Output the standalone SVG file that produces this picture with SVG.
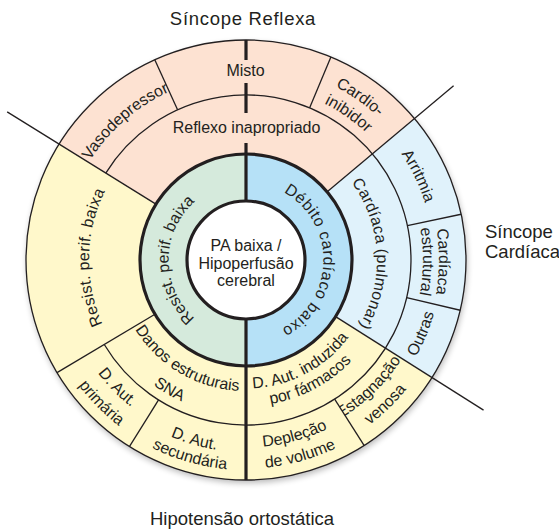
<svg xmlns="http://www.w3.org/2000/svg" xmlns:xlink="http://www.w3.org/1999/xlink" width="559" height="529" viewBox="0 0 559 529">
  <style>
    .pink { fill: #fde2d2; }
    .yellow { fill: #fff8cb; }
    .lblue { fill: #e0f2fb; }
    .green { fill: #d5eadc; }
    .blue { fill: #b6e1f7; }
    .lbl { font-family: "Liberation Sans", Arial, sans-serif; font-size: 16px; fill: #231f20; }
    .title { font-family: "Liberation Sans", Arial, sans-serif; font-size: 18.5px; fill: #231f20; }
    .thin { fill: none; stroke: #231f20; stroke-width: 1.3; }
    .thick { fill: none; stroke: #231f20; stroke-width: 3.2; }
  </style>
  <defs>
    <filter id="shadow" x="-10%" y="-10%" width="120%" height="125%">
      <feGaussianBlur stdDeviation="3"/>
    </filter>
    <!-- text baselines: clockwise arcs keep glyph tops outward, counter-clockwise arcs keep them inward -->
    <path id="p-green" d="M 239.25 337.20 A 77.5 77.5 0 0 1 239.25 182.80"/>
    <path id="p-blue" d="M 254.10 182.92 A 77.5 77.5 0 0 1 251.41 337.31"/>
    <path id="p-resist" d="M 216.04 414.12 A 157 157 0 0 1 221.44 104.93"/>
    <path id="p-pulm" d="M 261.96 129.98 A 131 131 0 0 1 275.47 387.64"/>
    <path id="p-vaso" d="M 87.42 355.28 A 185 185 0 0 1 362.42 116.23"/>
    <path id="p-cardio1" d="M 108.11 122.11 A 195 195 0 0 1 422.73 342.41"/>
    <path id="p-cardio2" d="M 122.26 136.26 A 175 175 0 0 1 404.60 333.96"/>
    <path id="p-arrit" d="M 194.18 79.28 A 188 188 0 0 1 356.50 412.10"/>
    <path id="p-estr1" d="M 281.17 70.23 A 193 193 0 0 1 277.85 450.35"/>
    <path id="p-estr2" d="M 278.26 85.96 A 177 177 0 0 1 275.21 434.57"/>
    <path id="p-outras" d="M 202.69 450.64 A 195.5 195.5 0 0 0 351.90 95.67"/>
    <path id="p-farm1" d="M 144.74 339.11 A 128.5 128.5 0 0 0 368.21 220.29"/>
    <path id="p-farm2" d="M 130.95 349.89 A 146 146 0 0 0 384.85 214.88"/>
    <path id="p-estag1" d="M 137.55 409.26 A 184.5 184.5 0 0 0 398.96 156.83"/>
    <path id="p-estag2" d="M 124.92 426.66 A 206 206 0 0 0 416.78 144.81"/>
    <path id="p-depl1" d="M 76.76 340.72 A 187.5 187.5 0 0 0 432.64 242.03"/>
    <path id="p-depl2" d="M 57.81 349.76 A 208.5 208.5 0 0 0 453.54 240.02"/>
    <path id="p-danos1" d="M 123.30 214.12 A 131 131 0 0 0 345.61 345.08"/>
    <path id="p-danos2" d="M 100.35 205.54 A 155.5 155.5 0 0 0 364.24 360.99"/>
    <path id="p-prim1" d="M 93.79 152.23 A 186.5 186.5 0 0 0 352.17 413.33"/>
    <path id="p-prim2" d="M 75.43 139.23 A 209 209 0 0 0 364.98 431.83"/>
    <path id="p-sec1" d="M 55.05 239.93 A 192 192 0 0 0 418.57 344.17"/>
    <path id="p-sec2" d="M 37.15 238.05 A 210 210 0 0 0 434.75 352.06"/>
  </defs>

  <!-- soft shadow under the wheel -->
  <circle cx="247" cy="263" r="220" fill="#000" opacity="0.28" filter="url(#shadow)"/>

  <!-- group titles -->
  <text class="title" x="243" y="25" text-anchor="middle" letter-spacing="0.7">Síncope Reflexa</text>
  <text class="title" x="485" y="238" font-size="17.7">Síncope</text>
  <text class="title" x="485" y="258" font-size="17.7">Cardíaca</text>
  <text class="title" x="242" y="525" text-anchor="middle" font-size="19">Hipotensão ortostática</text>

  <!-- reflex syncope -->
  <g id="reflexo-inapropriado">
    <path class="pink" d="M 155.91 204.14 L 105.77 173.04 A 165 165 0 0 1 372.39 153.94 L 327.20 191.86 A 106 106 0 0 0 155.91 204.14 Z"/>
    <text class="lbl" x="246.5" y="133" text-anchor="middle">Reflexo inapropriado</text>
  </g>
  <g id="vasodepressor">
    <path class="pink" d="M 105.77 173.04 L 59.02 144.06 A 220 220 0 0 1 154.77 59.80 L 177.57 109.85 A 165 165 0 0 0 105.77 173.04 Z"/>
    <text class="lbl"><textPath xlink:href="#p-vaso" startOffset="50%" text-anchor="middle">Vasodepressor</textPath></text>
  </g>
  <g id="misto">
    <path class="pink" d="M 177.57 109.85 L 154.77 59.80 A 220 220 0 0 1 330.90 57.05 L 309.67 107.79 A 165 165 0 0 0 177.57 109.85 Z"/>
    <text class="lbl" x="245.5" y="76" text-anchor="middle">Misto</text>
  </g>
  <g id="cardioinibidor">
    <path class="pink" d="M 309.67 107.79 L 330.90 57.05 A 220 220 0 0 1 414.52 118.58 L 372.39 153.94 A 165 165 0 0 0 309.67 107.79 Z"/>
    <text class="lbl"><textPath xlink:href="#p-cardio1" startOffset="50%" text-anchor="middle">Cardio-</textPath></text>
    <text class="lbl"><textPath xlink:href="#p-cardio2" startOffset="50%" text-anchor="middle">inibidor</textPath></text>
  </g>

  <!-- cardiac syncope -->
  <g id="cardiaca-pulmonar">
    <path class="lblue" d="M 327.20 191.86 L 372.39 153.94 A 165 165 0 0 1 385.47 348.18 L 335.60 316.65 A 106 106 0 0 0 327.20 191.86 Z"/>
    <text class="lbl" letter-spacing="0.3"><textPath xlink:href="#p-pulm" startOffset="50%" text-anchor="middle">Cardíaca (pulmonar)</textPath></text>
  </g>
  <g id="arritmia">
    <path class="lblue" d="M 372.39 153.94 L 414.52 118.58 A 220 220 0 0 1 461.18 214.26 L 407.39 225.70 A 165 165 0 0 0 372.39 153.94 Z"/>
    <text class="lbl"><textPath xlink:href="#p-arrit" startOffset="50%" text-anchor="middle">Arritmia</textPath></text>
  </g>
  <g id="cardiaca-estrutural">
    <path class="lblue" d="M 407.39 225.70 L 461.18 214.26 A 220 220 0 0 1 460.19 310.25 L 406.64 297.69 A 165 165 0 0 0 407.39 225.70 Z"/>
    <text class="lbl"><textPath xlink:href="#p-estr1" startOffset="50%" text-anchor="middle">Cardíaca</textPath></text>
    <text class="lbl"><textPath xlink:href="#p-estr2" startOffset="50%" text-anchor="middle">estrutural</textPath></text>
  </g>
  <g id="outras">
    <path class="lblue" d="M 406.64 297.69 L 460.19 310.25 A 220 220 0 0 1 431.97 377.57 L 385.47 348.18 A 165 165 0 0 0 406.64 297.69 Z"/>
    <text class="lbl"><textPath xlink:href="#p-outras" startOffset="50%" text-anchor="middle">Outras</textPath></text>
  </g>

  <!-- orthostatic hypotension -->
  <g id="farmacos">
    <path class="yellow" d="M 335.60 316.65 L 385.47 348.18 A 165 165 0 0 1 246 425 L 246 366 A 106 106 0 0 0 335.60 316.65 Z"/>
    <text class="lbl"><textPath xlink:href="#p-farm1" startOffset="50%" text-anchor="middle">D. Aut. induzida</textPath></text>
    <text class="lbl"><textPath xlink:href="#p-farm2" startOffset="50%" text-anchor="middle">por fármacos</textPath></text>
  </g>
  <g id="estagnacao-venosa">
    <path class="yellow" d="M 385.47 348.18 L 431.97 377.57 A 220 220 0 0 1 364.21 445.55 L 334.65 399.16 A 165 165 0 0 0 385.47 348.18 Z"/>
    <text class="lbl"><textPath xlink:href="#p-estag1" startOffset="50%" text-anchor="middle">Estagnação</textPath></text>
    <text class="lbl"><textPath xlink:href="#p-estag2" startOffset="50%" text-anchor="middle">venosa</textPath></text>
  </g>
  <g id="deplecao-volume">
    <path class="yellow" d="M 334.65 399.16 L 364.21 445.55 A 220 220 0 0 1 246 480 L 246 425 A 165 165 0 0 0 334.65 399.16 Z"/>
    <text class="lbl"><textPath xlink:href="#p-depl1" startOffset="50%" text-anchor="middle">Depleção</textPath></text>
    <text class="lbl"><textPath xlink:href="#p-depl2" startOffset="50%" text-anchor="middle">de volume</textPath></text>
  </g>
  <g id="danos-sna">
    <path class="yellow" d="M 246 366 L 246 425 A 165 165 0 0 1 104.26 344.48 L 154.95 314.27 A 106 106 0 0 0 246 366 Z"/>
    <text class="lbl"><textPath xlink:href="#p-danos1" startOffset="50%" text-anchor="middle">Danos estruturais</textPath></text>
    <text class="lbl"><textPath xlink:href="#p-danos2" startOffset="50%" text-anchor="middle">SNA</textPath></text>
  </g>
  <g id="aut-secundaria">
    <path class="yellow" d="M 246 425 L 246 480 A 220 220 0 0 1 129.42 446.56 L 158.57 399.92 A 165 165 0 0 0 246 425 Z"/>
    <text class="lbl"><textPath xlink:href="#p-sec1" startOffset="50%" text-anchor="middle">D. Aut.</textPath></text>
    <text class="lbl"><textPath xlink:href="#p-sec2" startOffset="50%" text-anchor="middle">secundária</textPath></text>
  </g>
  <g id="aut-primaria">
    <path class="yellow" d="M 158.57 399.92 L 129.42 446.56 A 220 220 0 0 1 57.02 372.64 L 104.26 344.48 A 165 165 0 0 0 158.57 399.92 Z"/>
    <text class="lbl"><textPath xlink:href="#p-prim1" startOffset="50%" text-anchor="middle">D. Aut.</textPath></text>
    <text class="lbl"><textPath xlink:href="#p-prim2" startOffset="50%" text-anchor="middle">primária</textPath></text>
  </g>
  <g id="resist-periferica">
    <path class="yellow" d="M 154.95 314.27 L 57.02 372.64 A 220 220 0 0 1 59.02 144.06 L 155.91 204.14 A 106 106 0 0 0 154.95 314.27 Z"/>
    <text class="lbl" letter-spacing="0.3"><textPath xlink:href="#p-resist" startOffset="50%" text-anchor="middle">Resist. perif. baixa</textPath></text>
  </g>

  <!-- inner ring -->
  <g id="resist-baixa-inner">
    <path class="green" d="M 246 154 A 106 106 0 0 0 246 366 L 246 319 A 59 59 0 0 1 246 201 Z"/>
    <text class="lbl"><textPath xlink:href="#p-green" startOffset="50%" text-anchor="middle">Resist. perif. baixa</textPath></text>
  </g>
  <g id="debito-baixo">
    <path class="blue" d="M 246 154 A 106 106 0 0 1 246 366 L 246 319 A 59 59 0 0 0 246 201 Z"/>
    <text class="lbl" letter-spacing="0.6"><textPath xlink:href="#p-blue" startOffset="50%" text-anchor="middle">Débito cardíaco baixo</textPath></text>
  </g>

  <!-- ring outlines and dividers -->
  <g id="dividers">
    <circle class="thin" cx="246" cy="260" r="220" stroke-width="1.8"/>
    <path class="thin" d="M 105.77 173.04 A 165 165 0 1 1 104.26 344.48"/>
    <line class="thin" x1="155.91" y1="204.14" x2="7.18" y2="111.91"/>
    <line class="thin" x1="327.20" y1="191.86" x2="453.59" y2="85.80"/>
    <line class="thin" x1="335.60" y1="316.65" x2="483.53" y2="410.17"/>
    <line class="thin" x1="154.95" y1="314.27" x2="57.02" y2="372.64"/>
    <line class="thin" x1="177.57" y1="109.85" x2="154.77" y2="59.80"/>
    <line class="thin" x1="309.67" y1="107.79" x2="330.90" y2="57.05"/>
    <line class="thin" x1="407.39" y1="225.70" x2="461.18" y2="214.26"/>
    <line class="thin" x1="406.64" y1="297.69" x2="460.19" y2="310.25"/>
    <line class="thin" x1="334.65" y1="399.16" x2="364.21" y2="445.55"/>
    <line class="thin" x1="158.57" y1="399.92" x2="129.42" y2="446.56"/>
    <line class="thick" x1="246" y1="40" x2="246" y2="60" stroke-width="2.6"/>
    <line class="thick" x1="246" y1="83" x2="246" y2="113" stroke-width="2.6"/>
    <line class="thick" x1="246" y1="143" x2="246" y2="201"/>
    <line class="thick" x1="246" y1="319" x2="246" y2="480"/>
    <circle class="thick" cx="246" cy="260" r="106"/>
  </g>

  <g id="pa-baixa">
    <circle cx="246" cy="260" r="59" fill="#fff" stroke="#231f20" stroke-width="3.2"/>
    <text class="lbl" font-size="16.5" text-anchor="middle"><tspan x="246" y="250.5">PA baixa /</tspan><tspan x="246" y="268.5">Hipoperfusão</tspan><tspan x="246" y="286">cerebral</tspan></text>
  </g>
</svg>
